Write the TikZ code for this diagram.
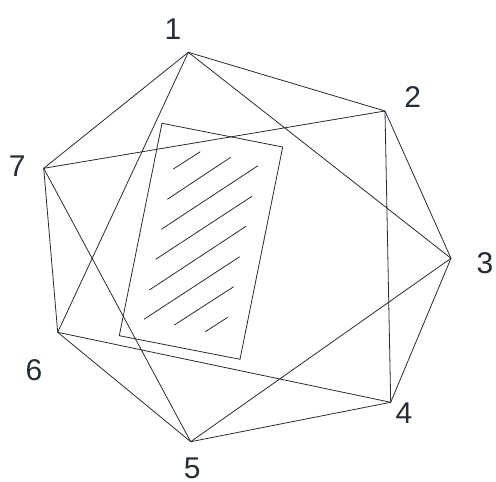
\documentclass[tikz,border=0pt]{standalone}
\usepackage{fontspec}
\setmainfont{Liberation Sans}
\definecolor{ink}{HTML}{262C33}
\begin{document}
\begin{tikzpicture}[x=1pt,y=-1pt,
  edge/.style={draw=ink,line width=0.8pt},
  lbl/.style={text=ink,font=\fontsize{30}{30}\selectfont,inner sep=0pt}]
\useasboundingbox (0,0) rectangle (496,482);
\coordinate (v1) at (188.3,52.3);
\coordinate (v2) at (385,111);
\coordinate (v3) at (451,258.3);
\coordinate (v4) at (390.7,402.3);
\coordinate (v5) at (190.7,441.7);
\coordinate (v6) at (57.7,332.3);
\coordinate (v7) at (43.7,168.3);
% heptagon
\draw[edge,line join=round] (v1)--(v2)--(v3)--(v4)--(v5)--(v6)--(v7)--cycle;
% star
\draw[edge,line join=round] (v1)--(v3)--(v5)--(v7)--(v2)--(v4)--(v6)--cycle;
% rectangle
\coordinate (r1) at (162,123.3);
\coordinate (r2) at (282.7,147);
\coordinate (r3) at (240,359.3);
\coordinate (r4) at (119.3,335.7);
\draw[edge] (r1)--(r2)--(r3)--(r4)--cycle;
% hatching
\coordinate (h1a) at (173.3,169); \coordinate (h1b) at (200.3,151.7);
\coordinate (h2a) at (167.3,199.3); \coordinate (h2b) at (230.7,157.3);
\coordinate (h3a) at (161.3,229.3); \coordinate (h3b) at (258,165.7);
\coordinate (h4a) at (155.7,259.3); \coordinate (h4b) at (252,196.3);
\coordinate (h5a) at (149.3,290); \coordinate (h5b) at (246,226.3);
\coordinate (h6a) at (144,319.3); \coordinate (h6b) at (239.7,256.7);
\coordinate (h7a) at (174.3,325); \coordinate (h7b) at (233.7,286.7);
\coordinate (h8a) at (205.3,331.7); \coordinate (h8b) at (227.7,317.3);
\foreach \i in {1,...,8} {\draw[edge] (h\i a)--(h\i b);}
% labels
\node[lbl] (l1) at (173,29) {1};
\node[lbl] (l2) at (412.7,97.3) {2};
\node[lbl] (l3) at (485,263.3) {3};
\node[lbl] (l4) at (404,413.3) {4};
\node[lbl] (l5) at (192.3,468) {5};
\node[lbl] (l6) at (34,370) {6};
\node[lbl] (l7) at (17.3,165.7) {7};
\end{tikzpicture}
\end{document}
